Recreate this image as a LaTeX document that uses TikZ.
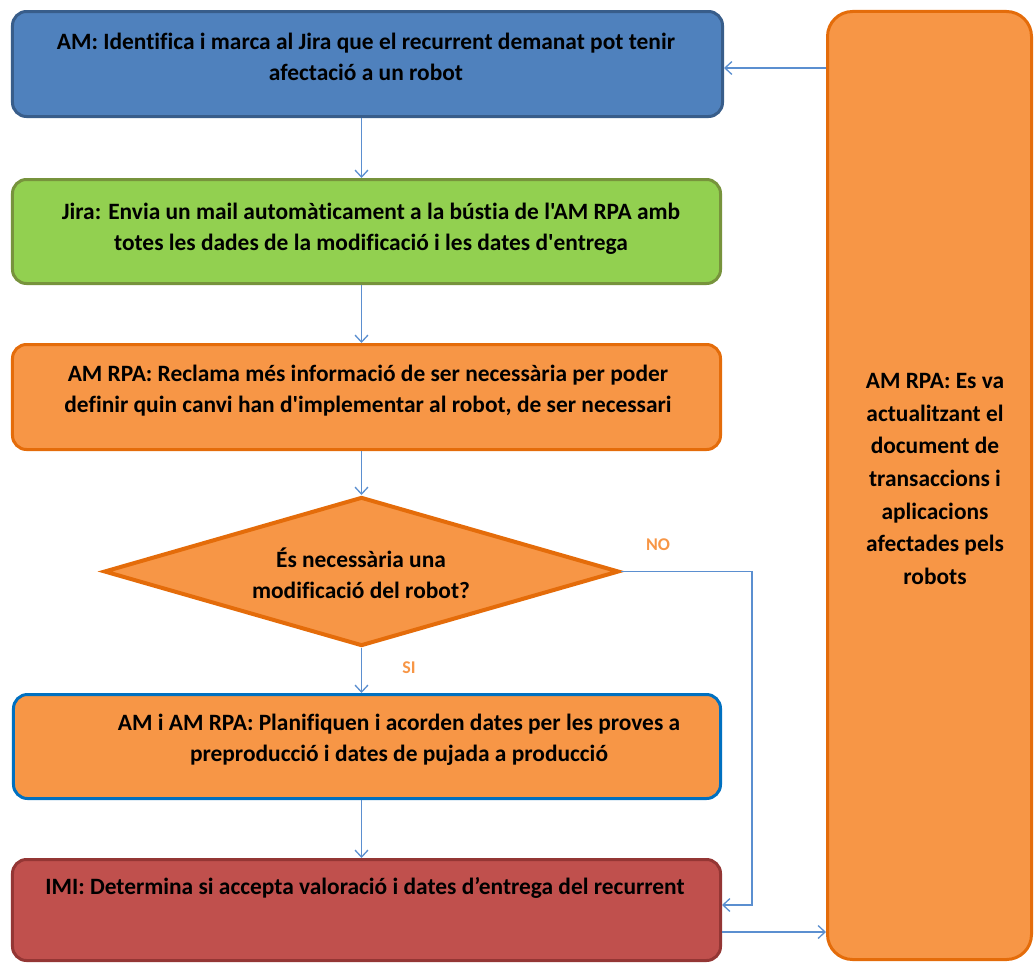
\documentclass[tikz,border=0pt]{standalone}
\usepackage{fontspec}
\setmainfont{Carlito}[Ligatures={TeXOff,CommonOff}]
\usetikzlibrary{arrows.meta,shapes.geometric}
\definecolor{bluefill}{RGB}{79,129,189}
\definecolor{blueline}{RGB}{56,93,138}
\definecolor{greenfill}{RGB}{146,208,80}
\definecolor{greenline}{RGB}{119,147,60}
\definecolor{orfill}{RGB}{247,150,70}
\definecolor{orline}{RGB}{228,108,10}
\definecolor{redfill}{RGB}{192,80,77}
\definecolor{redline}{RGB}{148,54,52}
\definecolor{boxblue}{RGB}{0,112,192}
\definecolor{arrowc}{RGB}{91,143,208}
\begin{document}
\begin{tikzpicture}[x=1bp,y=-1bp,
  box/.style={rounded corners=14bp, line width=3bp, inner sep=0pt},
  txt/.style={font=\bfseries\fontsize{23.5}{31}\selectfont, align=center, text=black, inner sep=0pt},
  lbl/.style={font=\bfseries\fontsize{18}{20}\selectfont, text=orfill, inner sep=0pt},
  conn/.style={draw=arrowc, line width=1.3bp, -{Straight Barb[length=7bp,width=13bp]}}]
\useasboundingbox (0,0) rectangle (1035,963);
\node[box, fill=bluefill, draw=blueline, minimum width=710bp, minimum height=105bp] (b1) at (367.5,64) {};
\node[box, fill=greenfill, draw=greenline, minimum width=708bp, minimum height=104bp] (b2) at (366.5,231.5) {};
\node[box, fill=orfill, draw=orline, minimum width=708bp, minimum height=105bp] (b3) at (366.5,397) {};
\node[diamond, fill=orfill, draw=orline, line width=4bp, inner sep=0pt, aspect=3.4, minimum width=515bp, minimum height=149bp] (d) at (361.5,571.5) {};
\node[box, fill=orfill, draw=boxblue, minimum width=707bp, minimum height=104bp] (b4) at (367,746.5) {};
\node[box, fill=redfill, draw=redline, minimum width=708bp, minimum height=101bp] (b5) at (366.5,910) {};
\node[box, rounded corners=25bp, fill=orfill, draw=orline, minimum width=204bp, minimum height=948bp] (r) at (929.5,485.5) {};
\node[txt] (t1) at (366,57) {AM: Identifica i marca al Jira que el recurrent demanat pot tenir\\afectació a un robot};
\node[txt] (t2) at (371,229) {Jira: Envia un mail automàticament a la bústia de l'AM RPA amb\\totes les dades de la modificació i les dates d'entrega};
\node[txt] (t3) at (368,391) {AM RPA: Reclama més informació de ser necessària per poder\\definir quin canvi han d'implementar al robot, de ser necessari};
\node[txt] (td) at (361,573) {És necessària una\\modificació del robot?};
\node[txt] (t4) at (399,740) {AM i AM RPA: Planifiquen i acorden dates per les proves a\\preproducció i dates de pujada a producció};
\node[txt] (t5) at (365,888) {IMI: Determina si accepta valoració i dates d’entrega del recurrent};
\node[txt, font=\bfseries\fontsize{23.5}{32.7}\selectfont] (tr) at (935,479) {AM RPA: Es va\\actualitzant el\\document de\\transaccions i\\aplicacions\\afectades pels\\robots};
\node[lbl] (no) at (658,545) {NO};
\node[lbl] (si) at (409,668) {SI};
\draw[conn] (b1.south -| d.north) -- (b2.north -| d.north);
\draw[conn] (b2.south -| d.north) -- (b3.north -| d.north);
\draw[conn] (b3.south -| d.north) -- (d.north);
\draw[conn] (d.south) -- (b4.north -| d.south);
\draw[conn] (b4.south -| d.south) -- (b5.north -| d.south);
\draw[conn] (d.east) -| ([xshift=30bp,yshift=5bp]b5.east) -- ([yshift=5bp]b5.east);
\coordinate (b5out) at ([yshift=-22bp]b5.east);
\draw[conn] (b5out) -- (b5out -| r.west);
\coordinate (b1in) at ([yshift=-4bp]b1.east);
\draw[conn] (b1in -| r.west) -- (b1in);
\end{tikzpicture}
\end{document}
